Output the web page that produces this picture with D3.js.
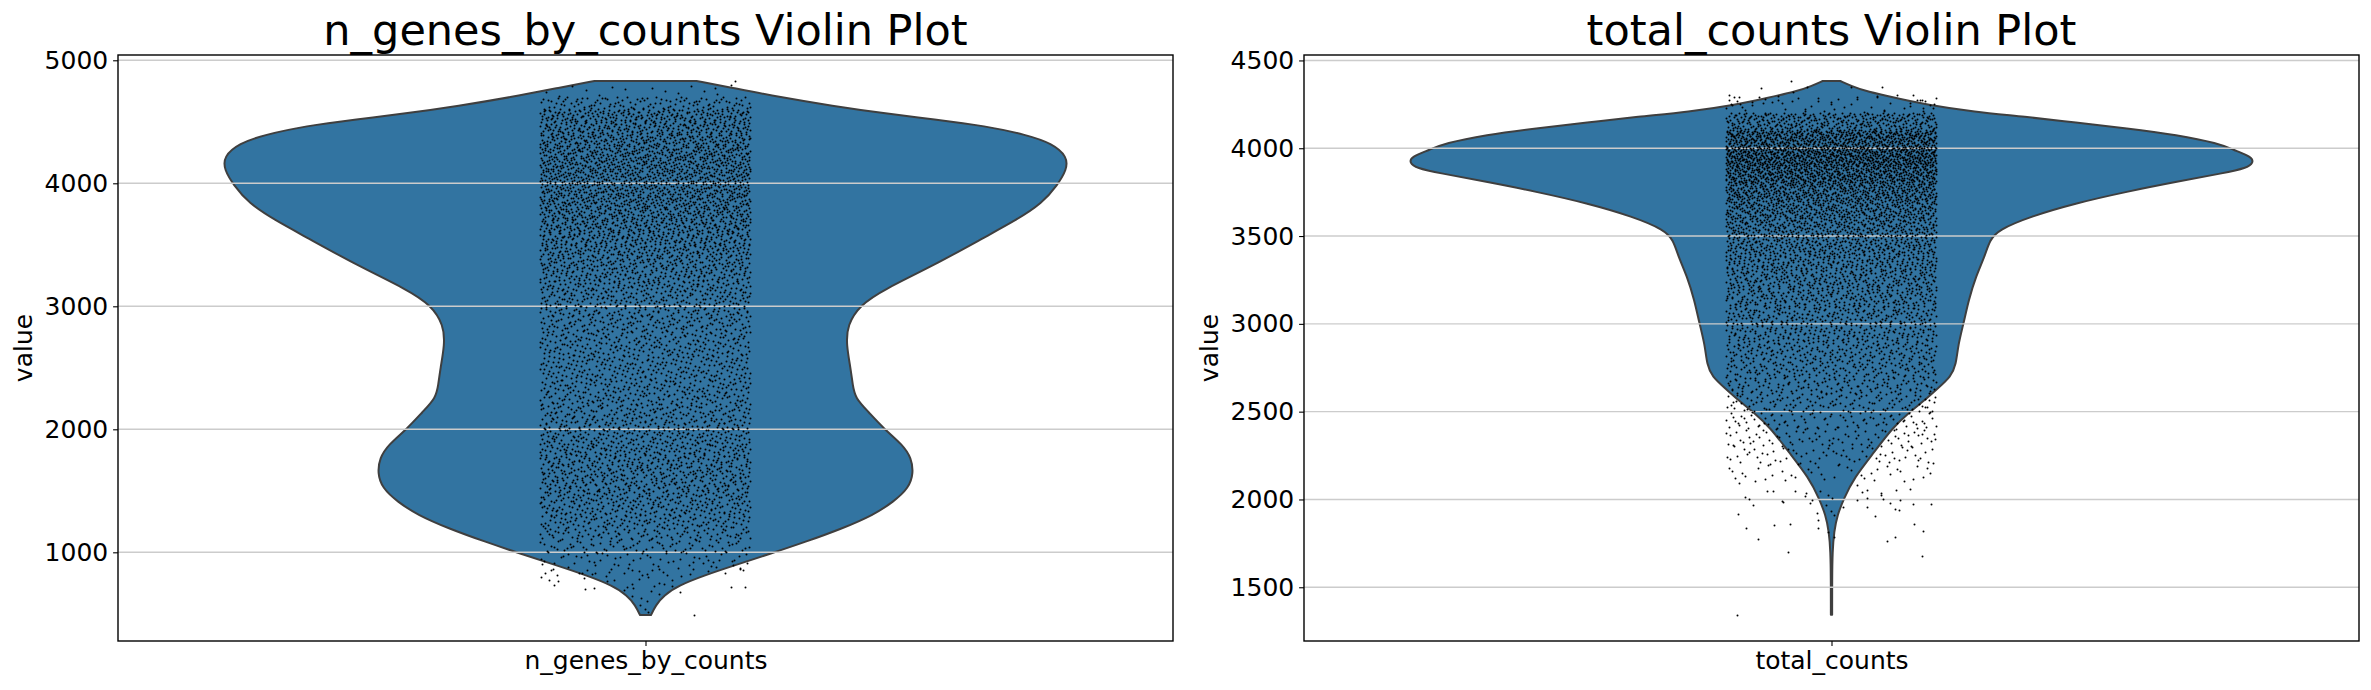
<!DOCTYPE html>
<html><head><meta charset="utf-8">
<script src="https://cdn.jsdelivr.net/npm/d3@7"></script>
<style>html,body{margin:0;background:#fff}svg{display:block}text{font-family:"DejaVu Sans",sans-serif;fill:#000}</style>
</head><body><svg id="c" width="2371" height="690"></svg>
<script>
// ---- panel 1: n_genes_by_counts ----
const genesTitle = "n_genes_by_counts Violin Plot";
const genesCategory = "n_genes_by_counts";
const genesTicks = [1000,2000,3000,4000,5000];
const genesDomain = [279,5043];
// violin outline (value, relative width)
const genesOutlineValues = [490,568,650,731,812,896,990,1087,1193,1303,1412,1523,1644,1766,1873,2007,2143,2254,2360,2498,2685,2848,3011,3133,3336,3566,3702,3837,3986,4108,4217,4325,4393,4466,4520,4569,4629,4699,4780,4832];
const genesOutlineWidths = [.013,.024,.043,.079,.139,.213,.297,.381,.466,.54,.588,.624,.635,.63,.61,.564,.528,.497,.491,.486,.476,.478,.509,.563,.685,.806,.879,.94,.976,.998,1,.963,.904,.806,.685,.564,.443,.32,.20,.121];
// estimated number of dots per 100-unit band (band starts at the value listed)
const genesBandStarts = [500,600,700,800,900,1000,1100,1200,1300,1400,1500,1600,1700,1800,1900,2000,2100,2200,2300,2400,2500,2600,2700,2800,2900,3000,3100,3200,3300,3400,3500,3600,3700,3800,3900,4000,4100,4200,4300,4400,4500,4600,4700,4800];
const genesBandCounts = [3,6,12,28,50,75,100,120,135,145,150,155,155,150,145,135,125,122,120,118,118,118,118,122,130,140,150,162,175,190,205,218,228,238,245,250,250,245,225,215,210,110,14,0];
// individually read dots (jitter, value)
const genesSparse = [[-.0975,902],[-.095,829],[-.0893,854],[-.0874,862],[-.0988,797],[-.0912,772],[-.0836,813],[-.0827,764],[-.0864,732],[-.058,789],[-.0571,699],[-.0485,707],[.033,675],[.0463,488],[.0813,715],[.0946,715],[.0756,829],[.0896,870],[.0905,862],[.0927,854],[.0832,894],[-.0621,829],[-.06,829],[.0851,4829],[.0662,4772]];

// ---- panel 2: total_counts ----
const countsTitle = "total_counts Violin Plot";
const countsCategory = "total_counts";
const countsTicks = [1500,2000,2500,3000,3500,4000,4500];
const countsDomain = [1194,4531];
const countsOutlineValues = [1343,1550,1703,1817,1912,2003,2122,2272,2407,2500,2557,2633,2700,2766,2880,3003,3136,3269,3383,3478,3535,3610,3687,3753,3810,3859,3887,3918,3952,3990,4028,4076,4114,4146,4180,4208,4247,4285,4322,4355,4383];
const countsOutlineWidths = [.0015,.0015,.0024,.006,.014,.029,.053,.102,.144,.186,.217,.252,.283,.295,.30,.313,.325,.342,.363,.375,.396,.47,.579,.70,.82,.93,.984,1,.996,.953,.917,.82,.70,.579,.458,.337,.229,.156,.084,.047,.021];
const countsBandStarts = [1900,2000,2100,2200,2300,2400,2500,2600,2700,2800,2900,3000,3100,3200,3300,3400,3500,3600,3700,3800,3900,4000,4100,4200];
const countsBandCounts = [3,6,39,65,80,95,125,150,175,190,210,225,250,270,295,325,360,415,495,630,750,640,340,45];
const countsSparse = [[-.0883,1916],[-.0808,1836],[-.0694,1773],[-.0542,1853],[-.039,1859],[-.041,1699],[-.0135,1921],[-.0125,1882],[-.0125,1836],[-.003,1813],[.0027,1785],[.0415,1904],[.034,1956],[.0785,1859],[.087,1819],[.0605,1785],[.053,1762],[.086,1677],[-.0893,1341],[.0112,1956],[.0605,1944],[.064,1938],[.0946,1973],[.0775,1973],[-.074,1967],[-.0817,2013],[-.078,2001],[-.0466,1990],[-.0457,1984],[-.0248,2018],[-.0239,2035],[-.02,1978],[-.018,1995],[.0245,1995],[.034,2007],[.049,2001],[.047,2035],[.047,2024],[.0557,1978],[.0652,1995],[.0297,2041],[.034,2052],[.0614,2052],[-.0608,2047],[-.0552,2047],[-.0343,2047],
[-.0381,4381],[-.0665,4342],[-.023,4347],[.0481,4347],[.0188,4347],[-.036,4319],[.0775,4302],[-.0969,4302],[-.0921,4290],[-.0627,4279],[-.0646,4256],[.0434,4290],[.0842,4273],[.0863,4273],[.0891,4267],[.0974,4250],[.0965,4228],[-.095,4250],[-.0893,4267],[-.0864,4250],[-.0845,4233]];

const FILL="#3274a1", EDGE="#3f3f3f", GRID="#cccccc";
const svg=d3.select("#c");

function radical(n,base){let f=1,r=0;while(n>0){f/=base;r+=f*(n%base);n=Math.floor(n/base);}return r;}

function panel(o){
  const x=d3.scaleLinear().domain([-.5,.5]).range([o.left,o.left+1055]);
  const y=d3.scaleLinear().domain(o.domain).range([641,55]);
  const half=d3.scaleLinear().domain([0,1]).range([0,.4]);
  const rows=o.values.map((v,i)=>({v,w:o.widths[i]}));
  const widthAt=d3.scaleLinear().domain(o.values).range(o.widths).clamp(true);

  const area=d3.area().curve(d3.curveBasis).y(d=>y(d.v))
    .x0(d=>x(-half(d.w))).x1(d=>x(half(d.w)));
  svg.append("path").attr("d",area(rows)).attr("fill",FILL)
    .attr("stroke",EDGE).attr("stroke-width",2).attr("stroke-linejoin","round");

  svg.append("g").selectAll("line").data(o.ticks).join("line")
    .attr("x1",o.left).attr("x2",o.left+1055).attr("y1",d=>y(d)).attr("y2",d=>y(d))
    .attr("stroke",GRID).attr("stroke-width",1.4);

  // dots: low-discrepancy placement inside each estimated band; sparse ones as read
  const pts=o.sparse.map(d=>({j:d[0],v:d[1]}));
  let k=0;
  o.bandStarts.forEach((s,b)=>{
    for(let i=0;i<o.bandCounts[b];i++){
      k++;
      const v=s+100*radical(k,3);
      let lim=.1;
      if(v<o.narrowBelow) lim=Math.min(.1,half(widthAt(v))*.95);
      pts.push({j:(radical(k,2)*2-1)*lim,v});
    }
  });
  svg.append("g").selectAll("circle").data(pts).join("circle")
    .attr("cx",d=>Math.floor(x(d.j))+.5).attr("cy",d=>Math.floor(y(d.v))+.5).attr("r",1).attr("fill","#000");

  const ay=d3.axisLeft(y).tickValues(o.ticks).tickSize(4.9).tickPadding(4.9).tickFormat(d3.format("d"));
  const gy=svg.append("g").attr("transform",`translate(${o.left},0)`).call(ay);
  const ax=d3.axisBottom(x).tickValues([0]).tickSize(4.9).tickPadding(4.9).tickFormat(()=>o.category);
  const gx=svg.append("g").attr("transform","translate(0,641)").call(ax);
  [gy,gx].forEach(g=>{
    g.select(".domain").remove();
    g.selectAll("line").attr("stroke","#000").attr("stroke-width",1.1);
    g.selectAll("text").attr("font-size",25).attr("font-family","DejaVu Sans").attr("fill","#000");
  });
  svg.append("rect").attr("x",o.left).attr("y",55).attr("width",1055).attr("height",586)
    .attr("fill","none").attr("stroke","#000").attr("stroke-width",1.4);
  svg.append("text").attr("x",x(0)).attr("y",45).attr("text-anchor","middle")
    .attr("font-size",43).text(o.title);
  svg.append("text").attr("transform",`translate(${o.left-86},348) rotate(-90)`)
    .attr("text-anchor","middle").attr("font-size",25).text("value");
}

panel({left:118,title:genesTitle,category:genesCategory,ticks:genesTicks,domain:genesDomain,
  values:genesOutlineValues,widths:genesOutlineWidths,bandStarts:genesBandStarts,bandCounts:genesBandCounts,sparse:genesSparse,narrowBelow:900});
panel({left:1304,title:countsTitle,category:countsCategory,ticks:countsTicks,domain:countsDomain,
  values:countsOutlineValues,widths:countsOutlineWidths,bandStarts:countsBandStarts,bandCounts:countsBandCounts,sparse:countsSparse,narrowBelow:2050});
</script></body></html>
